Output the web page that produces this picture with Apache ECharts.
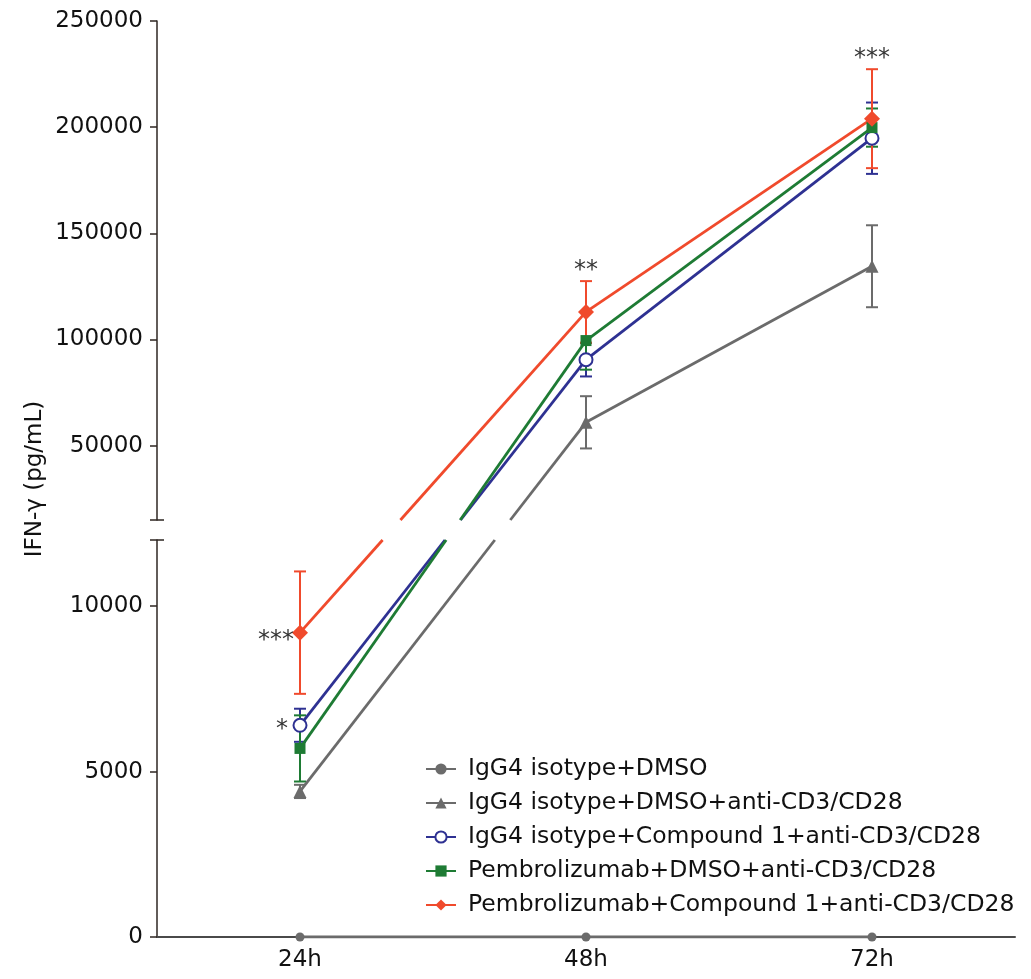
<!DOCTYPE html>
<html><head><meta charset="utf-8">
<script src="https://cdn.jsdelivr.net/npm/echarts@6.0.0/dist/echarts.min.js"></script>
<style>html,body{margin:0;padding:0;background:#fff}#c{width:1031px;height:979px}</style>
</head><body><div id="c"></div>
<script>
// ---------- data ----------
const timePoints = ['24h', '48h', '72h'];
const groupNames = [
  'IgG4 isotype+DMSO',
  'IgG4 isotype+DMSO+anti-CD3/CD28',
  'IgG4 isotype+Compound 1+anti-CD3/CD28',
  'Pembrolizumab+DMSO+anti-CD3/CD28',
  'Pembrolizumab+Compound 1+anti-CD3/CD28'
];
const meanDMSO        = [0, 0, 0];
const meanIgG4CD3     = [4400, 61000, 134500];
const meanIgG4Cpd     = [6400, 90500, 194800];
const meanPembroCD3   = [5700, 99500, 199800];
const meanPembroCpd   = [9200, 113000, 204000];
const sdDMSO          = [0, 0, 0];
const sdIgG4CD3       = [200, 12300, 19300];
const sdIgG4Cpd       = [500, 7900, 16800];
const sdPembroCD3     = [1000, 13700, 9000];
const sdPembroCpd     = [1850, 14500, 23300];
const lowerRange = [0, 12000];
const upperRange = [15000, 250000];
const lowerTickLabels = [0, 5000, 10000];
const upperTickLabels = [50000, 100000, 150000, 200000, 250000];
const sigPembroCpd = ['***', '**', '***'];
const sigIgG4Cpd   = ['*', '', ''];
const yAxisTitle = 'IFN-\u03b3 (pg/mL)';

// ---------- styles ----------
const FONT = 'DejaVu Sans';
const TXT = '#111111';
const AXIS = '#2e2622';
const groupColors = ['#6b6b6b', '#6b6b6b', '#2e3192', '#1e7b34', '#f04a2c'];
const groupSymbols = ['circle', 'triangle', 'emptyCircle', 'rect', 'diamond'];
const groupSymbolSizes = [9, 13, 13, 11, 16];

const means = [meanDMSO, meanIgG4CD3, meanIgG4Cpd, meanPembroCD3, meanPembroCpd];
const sds = [sdDMSO, sdIgG4CD3, sdIgG4Cpd, sdPembroCD3, sdPembroCpd];
const sigs = [null, null, sigIgG4Cpd, null, sigPembroCpd];
const inUpper = v => v >= upperRange[0];

const chart = echarts.init(document.getElementById('c'));

function errRender(color) {
  return function (params, api) {
    const x = api.value(0), m = api.value(1), s = api.value(2);
    const top = api.coord([x, m + s]);
    const bot = api.coord([x, m - s]);
    const hw = 6;
    const style = { stroke: color, lineWidth: 2 };
    return { type: 'group', children: [
      { type: 'line', shape: { x1: top[0], y1: top[1], x2: bot[0], y2: bot[1] }, style },
      { type: 'line', shape: { x1: top[0] - hw, y1: top[1], x2: top[0] + hw, y2: top[1] }, style },
      { type: 'line', shape: { x1: bot[0] - hw, y1: bot[1], x2: bot[0] + hw, y2: bot[1] }, style }
    ] };
  };
}

function crossRender(color) {
  return function (params, api) {
    const lowFirst = !inUpper(api.value(1));
    const li = lowFirst ? 0 : 2, ui = lowFirst ? 2 : 0;
    const pLow = api.coord([api.value(li), api.value(li + 1)]);
    const pUp = chart.convertToPixel({ gridIndex: 0 }, [api.value(ui), api.value(ui + 1)]);
    const yLowTop = api.coord([0, lowerRange[1]])[1];
    const yUpBot = chart.convertToPixel({ gridIndex: 0 }, [0, upperRange[0]])[1];
    const xAt = y => pLow[0] + (pUp[0] - pLow[0]) * (y - pLow[1]) / (pUp[1] - pLow[1]);
    const style = { stroke: color, lineWidth: 2.8 };
    return { type: 'group', children: [
      { type: 'line', shape: { x1: pLow[0], y1: pLow[1], x2: xAt(yLowTop), y2: yLowTop }, style },
      { type: 'line', shape: { x1: xAt(yUpBot), y1: yUpBot, x2: pUp[0], y2: pUp[1] }, style }
    ] };
  };
}

const series = [];
// line series (markers + within-segment lines)
groupNames.forEach((name, g) => {
  const m = means[g];
  const base = {
    name, type: 'line', symbol: groupSymbols[g], symbolSize: groupSymbolSizes[g], z: 4,
    itemStyle: { color: groupColors[g], borderWidth: g === 2 ? 2 : 0 },
    lineStyle: { color: groupColors[g], width: 2.8 },
    emphasis: { disabled: true }, silent: true
  };
  if (m.some(inUpper)) series.push(Object.assign({}, base, { xAxisIndex: 0, yAxisIndex: 0, data: m.map(v => inUpper(v) ? v : null) }));
  if (m.some(v => !inUpper(v))) series.push(Object.assign({}, base, { xAxisIndex: 1, yAxisIndex: 1, data: m.map(v => inUpper(v) ? null : v) }));
});
// crossing segments over the axis break
groupNames.forEach((name, g) => {
  const m = means[g];
  const pairs = [];
  for (let i = 0; i < m.length - 1; i++) {
    if (inUpper(m[i]) !== inUpper(m[i + 1])) pairs.push([i, m[i], i + 1, m[i + 1]]);
  }
  if (pairs.length) series.push({ type: 'custom', coordinateSystem: 'cartesian2d', xAxisIndex: 1, yAxisIndex: 1, z: 3, silent: true, data: pairs, renderItem: crossRender(groupColors[g]) });
});
// error bars
groupNames.forEach((name, g) => {
  [true, false].forEach(up => {
    const items = means[g].map((v, i) => [i, v, sds[g][i]]).filter(d => inUpper(d[1]) === up && d[2] > 0);
    if (items.length) series.push({ type: 'custom', xAxisIndex: up ? 0 : 1, yAxisIndex: up ? 0 : 1, z: 2, silent: true, data: items, renderItem: errRender(groupColors[g]) });
  });
});
// significance marks
groupNames.forEach((name, g) => {
  if (!sigs[g]) return;
  sigs[g].forEach((t, i) => {
    if (!t) return;
    const v = means[g][i];
    const up = inUpper(v);
    series.push({
      type: 'scatter', xAxisIndex: up ? 0 : 1, yAxisIndex: up ? 0 : 1, z: 6, silent: true,
      symbol: 'circle', symbolSize: 2, itemStyle: { color: 'rgba(0,0,0,0)' },
      data: [[i, up ? v + sds[g][i] : v]],
      label: {
        show: true, formatter: t, position: up ? 'top' : 'left', distance: up ? 2 : (g === 2 ? 11 : 5),
        offset: up ? [0, 5] : [0, g === 2 ? 4 : 8],
        fontFamily: FONT, fontSize: 24, color: '#000'
      }
    });
  });
});

const yTickStyle = { color: AXIS, width: 1.5 };
const plain = v => String(v);
const option = {
  animation: false,
  backgroundColor: '#fff',
  grid: [
    { left: 157, top: 21, width: 858, height: 499 },
    { left: 157, top: 540, width: 858, height: 397 }
  ],
  xAxis: [
    { gridIndex: 0, type: 'category', data: timePoints, show: false },
    { gridIndex: 1, type: 'category', data: timePoints,
      axisLine: { lineStyle: { color: '#4a4a4a', width: 2 } },
      axisTick: { alignWithLabel: true, length: 6, lineStyle: { color: '#4a4a4a', width: 1.5 } },
      axisLabel: { fontFamily: FONT, fontSize: 23, color: TXT, margin: 12 } }
  ],
  yAxis: [
    { gridIndex: 0, type: 'value', position: 'left', min: upperRange[0], max: upperRange[1],
      splitLine: { show: false },
      axisLine: { show: true, lineStyle: yTickStyle },
      axisTick: { show: true, length: 7, lineStyle: yTickStyle, customValues: [upperRange[0]].concat(upperTickLabels) },
      axisLabel: { customValues: upperTickLabels, formatter: plain, fontFamily: FONT, fontSize: 23, color: TXT, margin: 14 } },
    { gridIndex: 1, type: 'value', position: 'left', min: lowerRange[0], max: lowerRange[1],
      splitLine: { show: false },
      axisLine: { show: true, lineStyle: yTickStyle },
      axisTick: { show: true, length: 7, lineStyle: yTickStyle, customValues: lowerTickLabels.concat([lowerRange[1]]) },
      axisLabel: { customValues: lowerTickLabels, formatter: plain, fontFamily: FONT, fontSize: 23, color: TXT, margin: 14 } },
    { gridIndex: 0, type: 'value', position: 'left', min: upperRange[0], max: upperRange[1],
      splitLine: { show: false }, axisLine: { show: false }, axisLabel: { show: false },
      axisTick: { show: true, inside: true, length: 7, lineStyle: yTickStyle, customValues: [upperRange[0]] } },
    { gridIndex: 1, type: 'value', position: 'left', min: lowerRange[0], max: lowerRange[1],
      splitLine: { show: false }, axisLine: { show: false }, axisLabel: { show: false },
      axisTick: { show: true, inside: true, length: 7, lineStyle: yTickStyle, customValues: [lowerRange[1]] } }
  ],
  legend: {
    orient: 'vertical', left: 425, top: 757, padding: 0, itemWidth: 30, itemHeight: 14, itemGap: 10,
    data: groupNames, selectedMode: false,
    textStyle: { fontFamily: FONT, fontSize: 23.5, color: TXT, padding: [0, 0, 0, 7] }
  },
  graphic: [
    { type: 'text', x: 35, y: 479, rotation: Math.PI / 2,
      style: { text: yAxisTitle, font: '23px "DejaVu Sans"', fill: TXT, align: 'center', verticalAlign: 'middle' } }
  ],
  series
};
chart.setOption(option);
</script>
</body></html>
